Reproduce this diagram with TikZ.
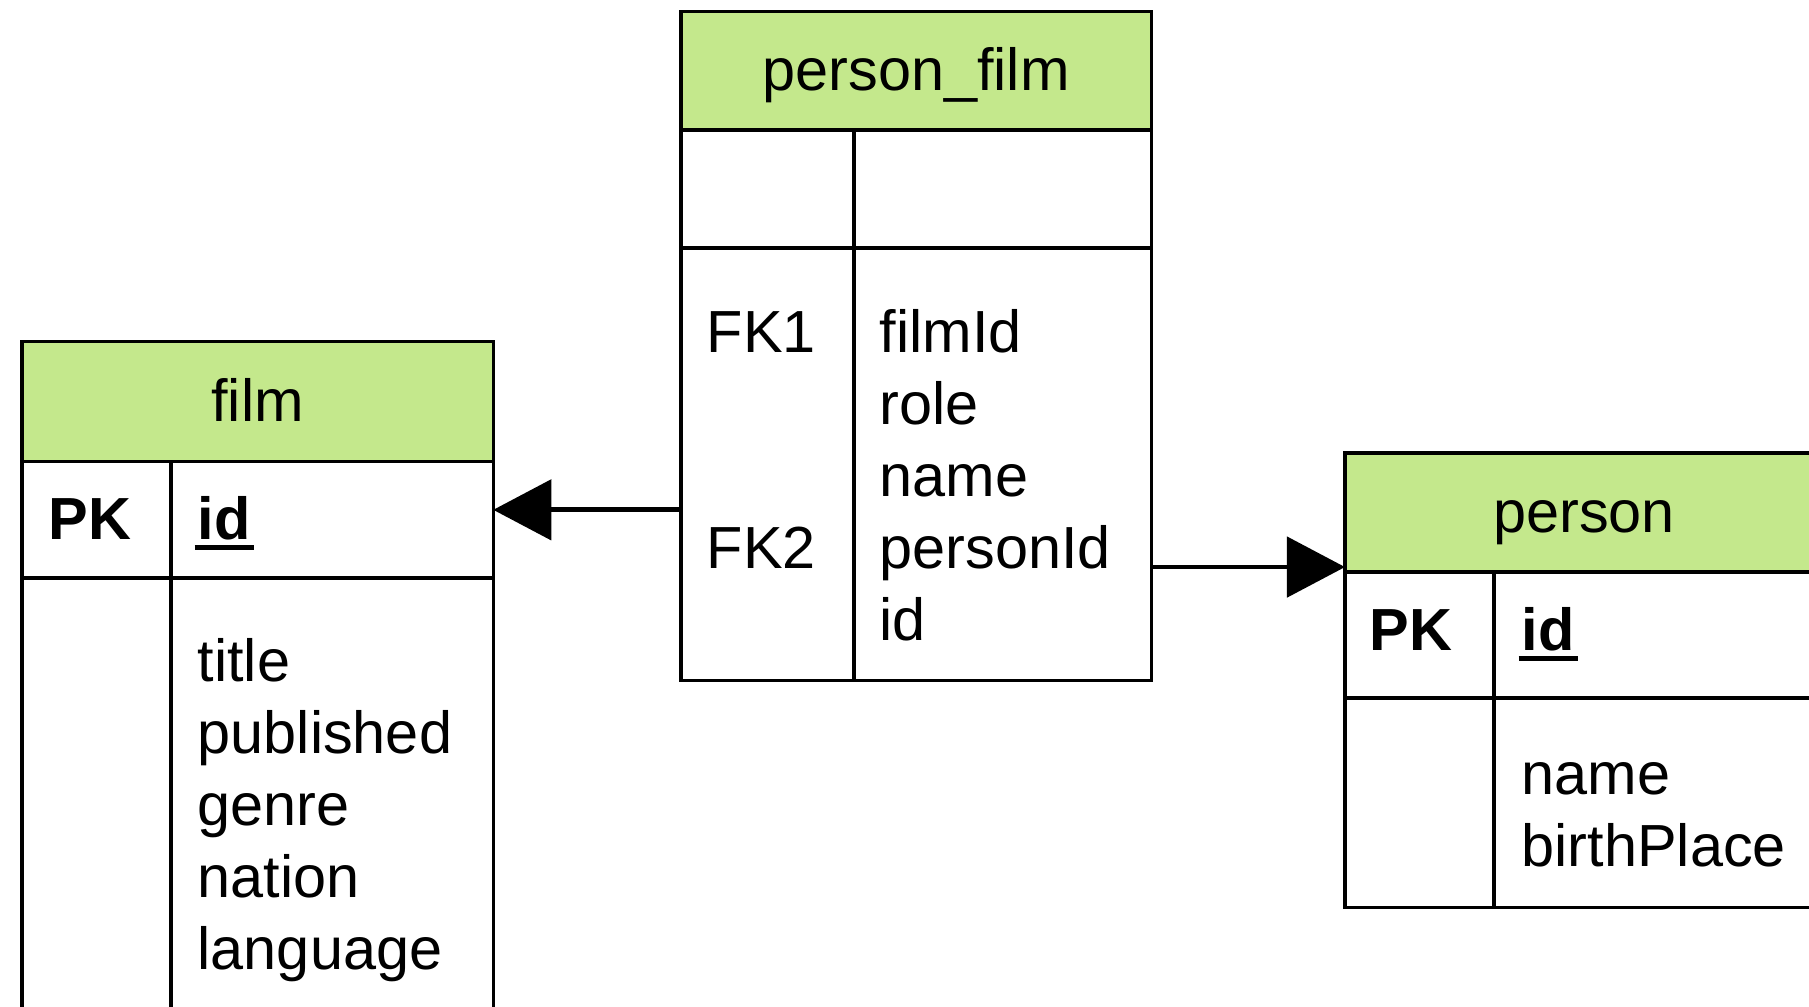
\documentclass[tikz,border=0pt]{standalone}
\usepackage{fontspec}
\setmainfont{Liberation Sans}
\usetikzlibrary{arrows.meta,positioning,calc}
\definecolor{headgreen}{RGB}{196,232,140}
\newcommand{\tblfont}{\fontsize{16.9}{20.5}\selectfont}
\newcommand{\keyline}[1]{\setbox0\hbox{#1}%
  \rlap{\hspace{-0.03cm}\rule[-0.1cm]{\dimexpr\wd0+0.06cm}{0.045cm}}\box0}
\tikzset{
  cell/.style    ={draw, line width=1pt, inner sep=0pt, outer sep=0pt,
                   anchor=north west},
  headcell/.style={cell, fill=headgreen, font=\tblfont,
                   text height=0.42cm, text depth=0.02cm},
  lbl/.style     ={anchor=base west, inner sep=0pt, align=left, font=\tblfont},
  keylbl/.style  ={lbl, font=\tblfont\bfseries},
  fkarr/.style   ={-{Triangle[length=0.58cm,width=0.6cm]}, line width=1.35pt},
}

\begin{document}
\begin{tikzpicture}[x=0.01cm,y=-0.01cm]
  \useasboundingbox (0,0) rectangle (1809,1007);
  \clip (0,0) rectangle (1809,1007);
  % film
  \node[headcell, minimum width=4.71cm, minimum height=1.2cm] (film) at (22,341.5) {film};
  \node[cell, minimum width=1.49cm, minimum height=1.165cm] (filmpk) at (film.south west) {};
  \node[cell, minimum width=3.22cm, minimum height=1.165cm] (filmid) at (filmpk.north east) {};
  \node[cell, minimum width=1.49cm, minimum height=4.7cm] (filmkey) at (filmpk.south west) {};
  \node[cell, minimum width=3.22cm, minimum height=4.7cm] (filmval) at (filmkey.north east) {};
  \node[keylbl] (filmpktxt) at (48,540) {PK};
  \node[keylbl] (filmidtxt) at (197,540) {\keyline{id}};
  \node[lbl] (filmcols) at (197,970) {title\\published\\genre\\nation\\language};
  % person_film
  \node[headcell, minimum width=4.70cm, minimum height=1.185cm] (pf) at (681,11.5) {person\_film};
  \node[cell, minimum width=1.73cm, minimum height=1.18cm] (pfpk) at (pf.south west) {};
  \node[cell, minimum width=2.97cm, minimum height=1.18cm] (pfid) at (pfpk.north east) {};
  \node[cell, minimum width=1.73cm, minimum height=4.32cm] (pfkey) at (pfpk.south west) {};
  \node[cell, minimum width=2.97cm, minimum height=4.32cm] (pfval) at (pfkey.north east) {};
  \node[lbl] (pffk1) at (706,353) {FK1};
  \node[lbl] (pffk2) at (706,569) {FK2};
  \node[lbl] (pfcols) at (879,641) {filmId\\role\\name\\personId\\id};
  % person
  \node[headcell, minimum width=4.78cm, minimum height=1.19cm] (person) at (1345,453) {person};
  \node[cell, minimum width=1.49cm, minimum height=1.26cm] (personpk) at (person.south west) {};
  \node[cell, minimum width=3.29cm, minimum height=1.26cm] (personid) at (personpk.north east) {};
  \node[cell, minimum width=1.49cm, minimum height=2.09cm] (personkey) at (personpk.south west) {};
  \node[cell, minimum width=3.29cm, minimum height=2.09cm] (personval) at (personkey.north east) {};
  \node[keylbl] (personpktxt) at (1369,651) {PK};
  \node[keylbl] (personidtxt) at (1521,651) {\keyline{id}};
  \node[lbl] (personcols) at (1521,867) {name\\birthPlace};
  % foreign keys
  \coordinate (fk1end) at ([yshift=1mm]filmid.east);
  \coordinate (fk2end) at ([yshift=0.05cm]person.south west);
  \draw[fkarr] (pfkey.west |- fk1end) -- (fk1end);
  \draw[fkarr] (pfval.east |- fk2end) -- (fk2end);
\end{tikzpicture}
\end{document}
